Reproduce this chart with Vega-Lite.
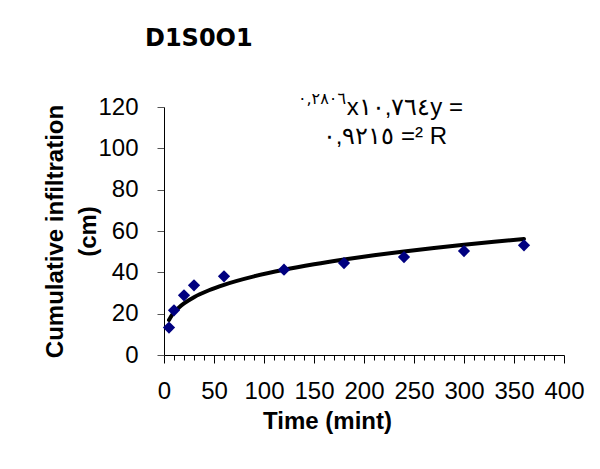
{
  "$schema": "https://vega.github.io/schema/vega-lite/v6.json",
  "width": 400,
  "height": 248,
  "autosize": {"type": "none"},
  "padding": {"left": 164, "top": 107, "right": 36, "bottom": 114},
  "background": "white",
  "config": {"view": {"stroke": null}, "font": "Liberation Sans"},
  "title": {"text": "D1S0O1", "anchor": "start", "frame": "group", "dx": -19, "offset": 40, "font": "DejaVu Sans", "fontSize": 24, "fontWeight": "bold", "color": "black"},
  "datasets": {
    "obs": [
      {"time": 5, "infiltration": 13.3},
      {"time": 10, "infiltration": 21.6},
      {"time": 20, "infiltration": 28.9},
      {"time": 30, "infiltration": 33.7},
      {"time": 60, "infiltration": 38.1},
      {"time": 120, "infiltration": 41.3},
      {"time": 180, "infiltration": 44.5},
      {"time": 240, "infiltration": 47.4},
      {"time": 300, "infiltration": 50.3},
      {"time": 360, "infiltration": 53.1}
    ],
    "fit": [
      {"time": 5, "infiltration": 16.91},
      {"time": 7, "infiltration": 18.58},
      {"time": 10, "infiltration": 20.54},
      {"time": 15, "infiltration": 23.01},
      {"time": 20, "infiltration": 24.95},
      {"time": 30, "infiltration": 27.96},
      {"time": 45, "infiltration": 31.32},
      {"time": 60, "infiltration": 33.96},
      {"time": 90, "infiltration": 38.05},
      {"time": 120, "infiltration": 41.25},
      {"time": 150, "infiltration": 43.91},
      {"time": 180, "infiltration": 46.22},
      {"time": 210, "infiltration": 48.26},
      {"time": 240, "infiltration": 50.10},
      {"time": 270, "infiltration": 51.79},
      {"time": 300, "infiltration": 53.34},
      {"time": 330, "infiltration": 54.79},
      {"time": 360, "infiltration": 56.14}
    ]
  },
  "resolve": {"axis": {"x": "independent"}},
  "layer": [
    {
      "data": {"name": "fit"},
      "mark": {"type": "line", "color": "black", "strokeWidth": 4, "strokeCap": "round", "interpolate": "monotone"},
      "encoding": {
        "x": {
          "field": "time", "type": "quantitative",
          "scale": {"domain": [0, 400], "nice": false, "zero": false},
          "axis": {
            "orient": "bottom",
            "title": "Time (mint)",
            "values": [0, 50, 100, 150, 200, 250, 300, 350, 400],
            "tickSize": 8,
            "labelOverlap": false,
            "labelBound": false,
            "labelFlush": false,
            "grid": false,
            "domainColor": "black",
            "tickColor": "black",
            "labelFont": "Liberation Sans",
            "labelFontSize": 24,
            "labelColor": "black",
            "labelPadding": 16,
            "labelBaseline": "top",
            "titleFont": "Liberation Sans",
            "titleFontSize": 24,
            "titleFontWeight": "bold",
            "titleColor": "black",
            "titleX": 163,
            "titleY": 73,
            "titleBaseline": "alphabetic",
            "titleAnchor": null
          }
        },
        "y": {
          "field": "infiltration", "type": "quantitative",
          "scale": {"domain": [0, 120], "nice": false},
          "axis": {
            "title": ["Cumulative infiltration", "(cm)"],
            "values": [0, 20, 40, 60, 80, 100, 120],
            "tickSize": 7,
            "grid": false,
            "domainColor": "black",
            "tickColor": "#555555",
            "labelFont": "Liberation Sans",
            "labelFontSize": 24,
            "labelColor": "black",
            "labelPadding": 19,
            "titleFont": "Liberation Sans",
            "titleFontSize": 24,
            "titleFontWeight": "bold",
            "titleColor": "black",
            "titleLineHeight": 33,
            "titleAngle": -90,
            "titleX": -109,
            "titleY": 124,
            "titleBaseline": "middle",
            "titleAlign": "center"
          }
        }
      }
    },
    {
      "data": {"name": "obs"},
      "mark": {"type": "point", "shape": "diamond", "filled": true, "color": "#000080", "opacity": 1, "size": 150},
      "encoding": {
        "x": {
          "field": "time", "type": "quantitative",
          "axis": {
            "orient": "bottom",
            "title": null,
            "values": [10,20,30,40,60,70,80,90,110,120,130,140,160,170,180,190,210,220,230,240,260,270,280,290,310,320,330,340,360,370,380,390],
            "labels": false,
            "domain": false,
            "grid": false,
            "tickSize": 5,
            "tickColor": "black"
          }
        },
        "y": {"field": "infiltration", "type": "quantitative"}
      }
    },
    {
      "data": {"values": [{"label": "٠,٢٨٠٦"}]},
      "mark": {"type": "text", "align": "right", "baseline": "alphabetic", "fontSize": 16, "font": "DejaVu Sans", "color": "black"},
      "encoding": {
        "x": {"datum": 182, "axis": null},
        "y": {"datum": 121.3},
        "text": {"field": "label"}
      }
    },
    {
      "data": {"values": [{"label": "x١٠,٧٦٤y ="}]},
      "mark": {"type": "text", "align": "right", "baseline": "alphabetic", "fontSize": 24, "font": "Liberation Sans", "color": "black"},
      "encoding": {
        "x": {"datum": 299, "axis": null},
        "y": {"datum": 116},
        "text": {"field": "label"}
      }
    },
    {
      "data": {"values": [{"label": "٠,٩٢١٥ =² R"}]},
      "mark": {"type": "text", "align": "right", "baseline": "alphabetic", "fontSize": 24, "font": "Liberation Sans", "color": "black"},
      "encoding": {
        "x": {"datum": 283, "axis": null},
        "y": {"datum": 102.3},
        "text": {"field": "label"}
      }
    }
  ]
}
